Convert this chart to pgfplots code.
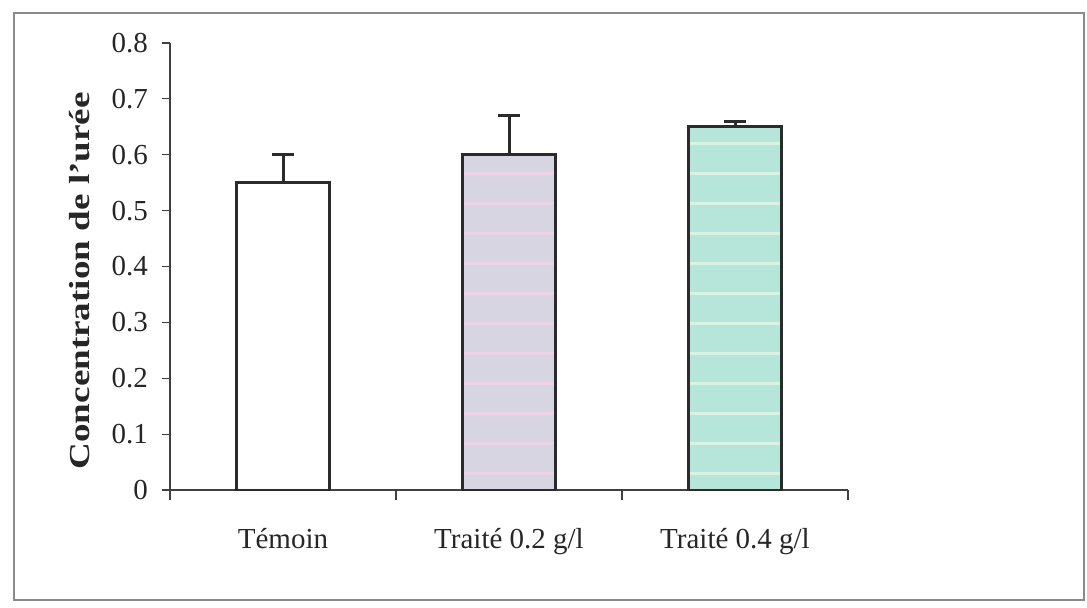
\documentclass[border=0pt]{standalone}
\usepackage{pgfplots}
\pgfplotsset{compat=1.18}
\usepackage{fontspec}
\setmainfont{Liberation Serif}
\usetikzlibrary{patterns}

% widely spaced horizontal stripes for the treated bars
\pgfdeclarepatternformonly{wide hlines}{\pgfpoint{-1pt}{-1pt}}{\pgfpoint{11pt}{16pt}}{\pgfpoint{10pt}{15pt}}{%
  \pgfsetlinewidth{1.5pt}%
  \pgfpathmoveto{\pgfpoint{-1pt}{7pt}}%
  \pgfpathlineto{\pgfpoint{11pt}{7pt}}%
  \pgfusepath{stroke}}

\definecolor{barline}{HTML}{2B2B2B}
\definecolor{lav}{HTML}{D8D5E2}
\definecolor{lavstripe}{HTML}{EDD3E6}
\definecolor{mint}{HTML}{B6E6DA}
\definecolor{mintstripe}{HTML}{D8F3E4}
\definecolor{framegray}{HTML}{8A8A8A}

\begin{document}
\begin{tikzpicture}
\path (0,0) rectangle (543.5pt,303.5pt);
\draw[framegray, line width=0.7pt] (7pt,3.5pt) rectangle (542pt,297pt);
\begin{axis}[
  at={(85pt,58.5pt)}, anchor=south west, scale only axis,
  width=339pt, height=223.5pt,
  xmin=-0.5, xmax=2.5, ymin=0, ymax=0.8,
  axis lines=left,
  axis line style={-, draw=black!75, line width=0.6pt},
  tick align=outside,
  tick style={draw=black!75, line width=0.6pt},
  xtick={0,1,2},
  xticklabels={Témoin, Traité 0.2 g/l, Traité 0.4 g/l},
  major x tick style={draw=none},
  minor xtick={-0.5,0.5,1.5,2.5},
  minor tick length=5pt,
  ytick={0,0.1,...,0.8},
  major tick length=4pt,
  ticklabel style={font=\fontsize{14.5}{17}\selectfont, text=black!85},
  /pgf/number format/assume math mode=true,
  yticklabel style={/pgf/number format/.cd, fixed, precision=1, /tikz/.cd, xshift=-3.5pt},
  xticklabel style={anchor=base, yshift=-25pt},
  ylabel={\scalebox{1.28}[1]{Concentration de l\char"27 urée}},
  every axis y label/.style={at={(axis description cs:-0.1327,0.468)}, rotate=90, anchor=center,
    font=\fontsize{14.5}{17}\selectfont\bfseries, text=black!85},
  ybar, bar width=46.5pt, bar shift=0pt,
  error bars/y dir=plus, error bars/y explicit,
  error bars/error bar style={line width=1.5pt, draw=barline},
  error bars/error mark options={rotate=90, mark size=5.5pt, line width=1.5pt, draw=barline},
]
\addplot[draw=barline, line width=1.5pt, fill=white]
  coordinates {(0,0.55) +- (0,0.05)};
\addplot[draw=barline, line width=1.5pt, fill=lav,
  postaction={pattern=wide hlines, pattern color=lavstripe}]
  coordinates {(1,0.60) +- (0,0.07)};
\addplot[draw=barline, line width=1.5pt, fill=mint,
  postaction={pattern=wide hlines, pattern color=mintstripe}]
  coordinates {(2,0.65) +- (0,0.01)};
\end{axis}
\end{tikzpicture}
\end{document}
